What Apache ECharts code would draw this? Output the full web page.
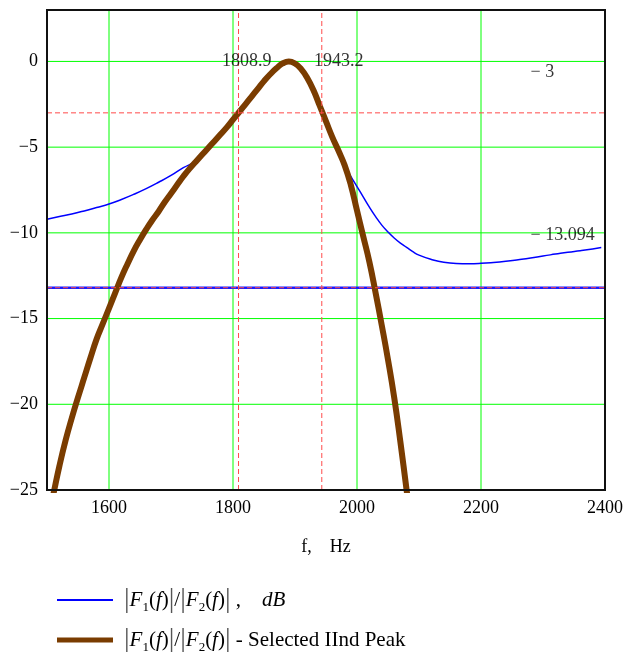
<!DOCTYPE html>
<html>
<head>
<meta charset="utf-8">
<script src="https://cdn.jsdelivr.net/npm/echarts@6/dist/echarts.min.js"></script>
<style>html,body{margin:0;padding:0;background:#fff;}#c{width:630px;height:652px;}</style>
</head>
<body>
<div id="c"></div>
<script>
// ---- data ----
const blueFreq = [1500,1520,1540,1560,1580,1600,1620,1640,1660,1680,1700,1720,1740,
  1750,1760,1770,1780,1790,1800,1810,1820,1830,1840,1850,1860,1870,1880,1890,1900,1910,1920,1930,1940,1950,1960,1970,1980,
  1990,2000,2010,2020,2030,2040,2050,2060,2070,2080,2090,2100,2120,2140,2160,2180,2200,2220,2240,2260,2280,2300,2320,2340,2360,2380,2394];
const blueDb = [-9.2,-9.05,-8.9,-8.72,-8.52,-8.32,-8.05,-7.75,-7.42,-7.05,-6.65,-6.2,-5.82,
  -5.45,-5.05,-4.65,-4.25,-3.85,-3.4,-2.95,-2.5,-2.05,-1.6,-1.15,-0.75,-0.4,-0.12,0.0,-0.12,-0.45,-0.98,-1.7,-2.6,-3.5,-4.4,-5.2,-6.05,
  -6.7,-7.3,-7.9,-8.5,-9.05,-9.55,-9.95,-10.3,-10.6,-10.85,-11.1,-11.3,-11.55,-11.72,-11.79,-11.8,-11.78,-11.73,-11.66,-11.57,-11.47,-11.35,-11.24,-11.13,-11.04,-10.94,-10.86];

const brownFreq = [1500,1510,1520,1530,1540,1550,1560,1570,1580,1590,1600,1610,1620,1630,1640,1650,1660,1670,1680,1690,
  1700,1710,1720,1730,1740,1750,1760,1770,1780,1790,1800,1810,1820,1830,1840,1850,1860,1870,1880,1890,
  1900,1910,1920,1930,1940,1950,1960,1970,1980,1990,2000,2010,2020,2030,2040,2050,2060,2070,2080,2090];
const brownDb = [-27.0,-25.3,-23.6,-22.1,-20.8,-19.6,-18.45,-17.3,-16.2,-15.3,-14.4,-13.5,-12.6,-11.8,-11.05,-10.4,-9.8,-9.25,-8.75,-8.2,
  -7.7,-7.2,-6.7,-6.25,-5.85,-5.45,-5.05,-4.65,-4.25,-3.85,-3.4,-2.95,-2.5,-2.05,-1.6,-1.15,-0.75,-0.4,-0.12,0.0,
  -0.12,-0.45,-0.98,-1.7,-2.6,-3.5,-4.4,-5.2,-6.05,-7.2,-8.7,-10.2,-11.7,-13.5,-15.4,-17.4,-19.6,-22.2,-25.0,-27.8];

const xRange = [1500, 2400];
const yRange = [-25, 3];
const freqGridTicks = [1600, 1800, 2000, 2200];
const dbGridTicks = [-20, -15, -10, -5, 0];
const markerFreqs = [1808.9, 1943.2];
const markerDbs = [-3];
const levelDb = [-13.2];

const annotText = ['1808.9', '1943.2', '\u2212 3', '\u2212 13.094'];
const annotFreq = [1822, 1970.5, 2280, 2280];
const annotDb = [0, 0, -0.66, -10.16];
const annotAlign = ['center', 'center', 'left', 'left'];

const SERIF = 'Liberation Serif, Times New Roman, serif';

const zip = (a, b) => a.map((v, i) => [v, b[i]]);

const chart = echarts.init(document.getElementById('c'), null, {renderer: 'canvas'});

const LF = 21;
const richStyles = {
  g: {width: 6, lineHeight: 28},
  b: {fontSize: 28, fontFamily: SERIF, color: '#555', lineHeight: 28, verticalAlign: 'middle'},
  i: {fontSize: LF, fontFamily: SERIF, fontStyle: 'italic', color: '#000', lineHeight: 28, verticalAlign: 'middle'},
  n: {fontSize: LF, fontFamily: SERIF, color: '#000', lineHeight: 28, verticalAlign: 'middle'},
  s: {fontSize: 13, fontFamily: SERIF, color: '#000', lineHeight: 14, verticalAlign: 'bottom'}
};
const absPart = '{g|}{b||}{i|F}{s|1}{n|(}{i|f}{n|)}{b||}{n|/}{b||}{i|F}{s|2}{n|(}{i|f}{n|)}{b||}';

function refLine(name, pts, z, lineStyle) {
  return {name: name, type: 'line', data: pts, silent: true, z: z, symbol: 'none', showSymbol: false,
    lineStyle: lineStyle, itemStyle: {color: lineStyle.color}, emphasis: {disabled: true}, clip: true, animation: false};
}
const vLine = f => [[f, yRange[0]], [f, yRange[1]]];
const hLine = d => [[xRange[0], d], [xRange[1], d]];

const greenStyle = {color: '#00ff00', width: 1, type: 'solid'};
const redStyle = {color: '#ff4a4a', width: 1, type: [5, 3]};
const levelStyle = {color: '#1a1aff', width: 2.5, type: 'solid'};

const series = [];
freqGridTicks.forEach((f, i) => series.push(refLine('gx' + i, vLine(f), 1, greenStyle)));
dbGridTicks.forEach((d, i) => series.push(refLine('gy' + i, hLine(d), 1, greenStyle)));
levelDb.forEach((d, i) => series.push(refLine('lv' + i, hLine(d), 2, levelStyle)));
series.push({
  name: 'blue', type: 'line', data: zip(blueFreq, blueDb), showSymbol: false, symbol: 'none',
  smooth: true, lineStyle: {color: '#0000ff', width: 1.5}, itemStyle: {color: '#0000ff'}, z: 3
});
series.push({
  name: 'brown', type: 'line', data: zip(brownFreq, brownDb), showSymbol: false, symbol: 'none',
  smooth: true, lineStyle: {color: '#7a3c00', width: 6}, itemStyle: {color: '#7a3c00'}, z: 4
});
markerFreqs.forEach((f, i) => series.push(refLine('mx' + i, vLine(f), 5, redStyle)));
markerDbs.concat(levelDb).forEach((d, i) => series.push(refLine('my' + i, hLine(d), 5, redStyle)));
series.push({
  name: 'annot', type: 'scatter', symbolSize: 0, silent: true, z: 6,
  data: annotText.map((t, i) => ({
    value: [annotFreq[i], annotDb[i]],
    label: {show: true, formatter: t, position: 'inside', align: annotAlign[i], verticalAlign: 'middle',
      fontFamily: SERIF, fontSize: 18, color: '#000'}
  }))
});

chart.setOption({
  animation: false,
  backgroundColor: '#fff',
  grid: {left: 47, right: 25, top: 10, bottom: 162, show: true, borderColor: '#111', borderWidth: 2, backgroundColor: 'transparent', z: 10},
  xAxis: {
    type: 'value', min: xRange[0], max: xRange[1], interval: 100,
    name: 'f,    Hz', nameLocation: 'middle', nameGap: 48,
    nameTextStyle: {fontFamily: SERIF, fontSize: 18, color: '#000'},
    axisLine: {show: false}, axisTick: {show: false}, splitLine: {show: false},
    axisLabel: {fontFamily: SERIF, fontSize: 18, color: '#000', margin: 9,
      formatter: v => (v % 200 === 0 ? String(v) : '')}
  },
  yAxis: {
    type: 'value', min: yRange[0], max: yRange[1], interval: 5,
    axisLine: {show: false}, axisTick: {show: false}, splitLine: {show: false},
    axisLabel: {fontFamily: SERIF, fontSize: 18, color: '#000', margin: 9, align: 'right', showMaxLabel: false,
      formatter: v => (v < 0 ? '\u2212' + Math.abs(v) : String(v))}
  },
  legend: [
    {data: ['blue'], left: 57, top: 586, padding: 0, itemWidth: 56, itemHeight: 2, icon: 'rect', selectedMode: false,
      itemStyle: {color: '#0000ff'},
      textStyle: {fontFamily: SERIF, fontSize: LF, color: '#000', rich: richStyles},
      formatter: () => absPart + '{n| ,    }{i|dB}'},
    {data: ['brown'], left: 57, top: 626, padding: 0, itemWidth: 56, itemHeight: 5, icon: 'rect', selectedMode: false,
      itemStyle: {color: '#7a3c00'},
      textStyle: {fontFamily: SERIF, fontSize: LF, color: '#000', rich: richStyles},
      formatter: () => absPart + '{n| - Selected IInd Peak}'}
  ],
  series: series
});
</script>
</body>
</html>
